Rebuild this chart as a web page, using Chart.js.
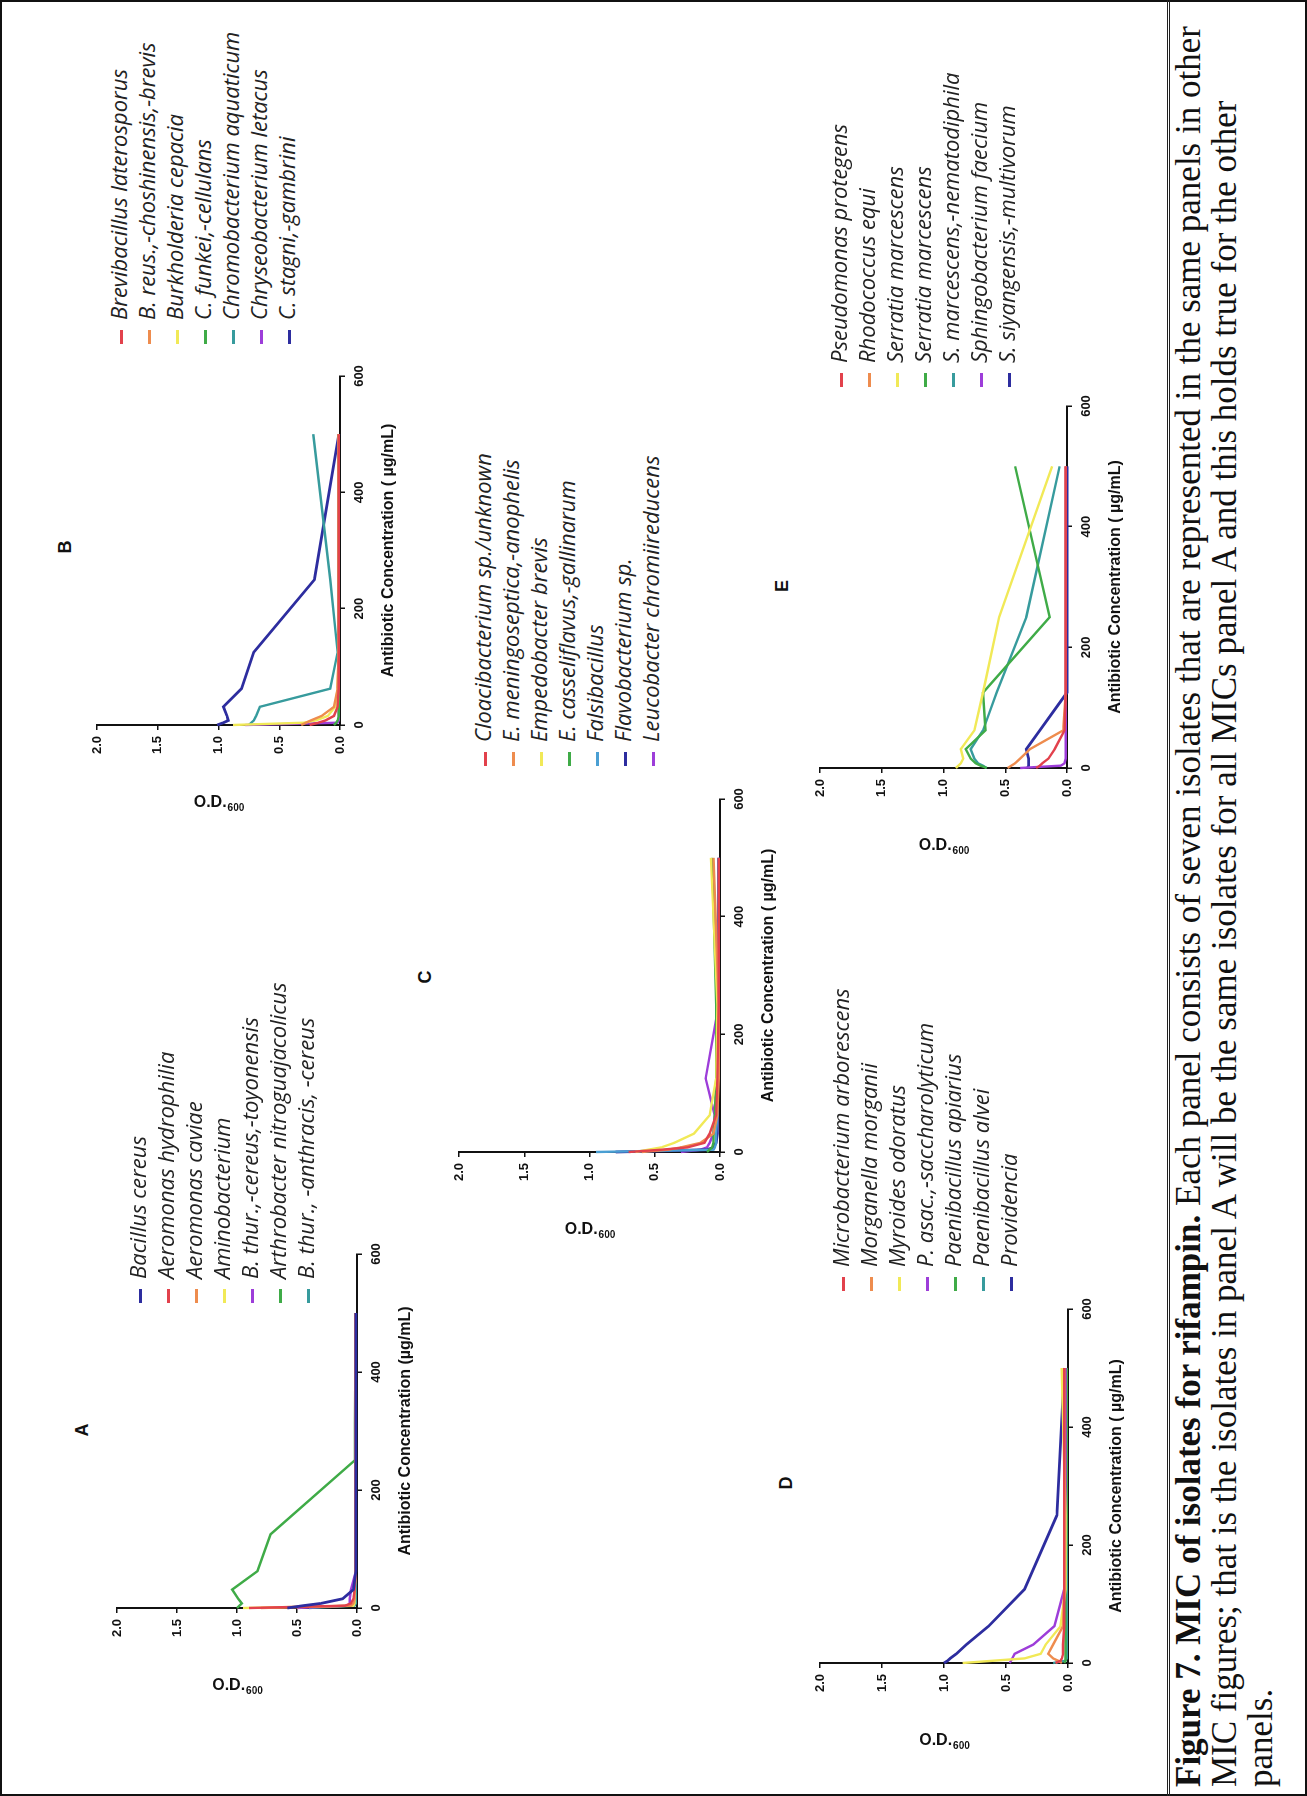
<!DOCTYPE html>
<html>
<head>
<meta charset="utf-8">
<script src="https://cdn.jsdelivr.net/npm/chart.js@4.4.1/dist/chart.umd.min.js"></script>
<style>
  html, body { margin: 0; padding: 0; background: #fff; width: 1307px; height: 1796px; overflow: hidden; }
  #page {
    position: absolute; left: 0; top: 0; width: 1796px; height: 1307px;
    transform-origin: 0 0; transform: translateY(1796px) rotate(-90deg);
    background: #fff; overflow: hidden;
  }
  #frame { position: absolute; left: 0; top: 0; width: 1792px; height: 1303px; border: 2px solid #111; pointer-events: none; z-index: 5; }
  #rule { position: absolute; left: 0; width: 1796px; top: 1167px; height: 1px; border-top: 1px solid #222; border-bottom: 1px solid #222; z-index: 5; }
  canvas { position: absolute; }
  .letter { position: absolute; font: bold 18px "Liberation Sans", Arial, sans-serif; color: #111; transform: translate(-50%, -50%); }
  .legend { position: absolute; font: italic 22px "Open Sans", "DejaVu Sans", sans-serif; color: #222; white-space: nowrap; }
  .legend .row { height: 28px; line-height: 28px; }
  .legend .mk { display: inline-block; width: 14px; height: 3px; vertical-align: middle; margin-right: 10px; }
  .caption { position: absolute; left: 9px; font: 35px "Liberation Serif", "Times New Roman", serif; color: #111; white-space: nowrap; line-height: 36px; }
</style>
</head>
<body>
<div id="page">
  <div id="frame"></div>
  <div id="rule"></div>
</div>
<script>
// Doubling-dilution concentrations (µg/mL) shared by every isolate
const concentrations = [0, 3.9, 7.8, 15.6, 31.25, 62.5, 125, 250, 500];
const xTickValues = [0, 200, 400, 600];
const odTickValues = [0, 0.5, 1.0, 1.5, 2.0];

const RED = '#e2414c', ORANGE = '#ee8c4e', YELLOW = '#f1e957', GREEN = '#3fab47',
      TEAL = '#379b9d', PURPLE = '#9d3dd9', BLUE = '#2d2d9f', SKY = '#4a9fd3';

// Panel A
const isolatesA = ['Bacillus cereus', 'Aeromonas hydrophilia', 'Aeromonas caviae', 'Aminobacterium',
  'B. thur.,-cereus,-toyonensis', 'Arthrobacter nitroguajacolicus', 'B. thur., -anthracis, -cereus'];
const colorsA = [BLUE, RED, ORANGE, YELLOW, PURPLE, GREEN, TEAL];
const odA = [
  [0.58, 0.45, 0.30, 0.12, 0.03, 0.01, 0.01, 0.01, 0.01],
  [0.90, 0.10, 0.05, 0.03, 0.02, 0.01, 0.01, 0.01, 0.01],
  [0.80, 0.05, 0.03, 0.02, 0.02, 0.01, 0.01, 0.01, 0.01],
  [0.95, 0.03, 0.02, 0.02, 0.02, 0.01, 0.01, 0.01, 0.01],
  [0.50, 0.08, 0.06, 0.06, 0.05, 0.01, 0.01, 0.01, 0.01],
  [1.00, 0.98, 0.96, 0.99, 1.04, 0.83, 0.72, 0.02, 0.01],
  [0.40, 0.02, 0.01, 0.01, 0.01, 0.01, 0.01, 0.01, 0.01]
];

// Panel B
const isolatesB = ['Brevibacillus laterosporus', 'B. reus.,-choshinensis,-brevis', 'Burkholderia cepacia',
  'C. funkei,-cellulans', 'Chromobacterium aquaticum', 'Chryseobacterium letacus', 'C. stagni,-gambrini'];
const colorsB = [RED, ORANGE, YELLOW, GREEN, TEAL, PURPLE, BLUE];
const odB = [
  [0.25, 0.18, 0.12, 0.05, 0.02, 0.01, 0.01, 0.01, 0.01],
  [0.32, 0.28, 0.24, 0.15, 0.05, 0.02, 0.01, 0.01, 0.01],
  [0.88, 0.30, 0.20, 0.10, 0.04, 0.02, 0.01, 0.01, 0.01],
  [0.05, 0.03, 0.02, 0.01, 0.01, 0.01, 0.01, 0.01, 0.01],
  [0.75, 0.73, 0.71, 0.69, 0.66, 0.08, 0.02, 0.08, 0.22],
  [0.78, 0.02, 0.01, 0.01, 0.01, 0.01, 0.01, 0.01, 0.01],
  [1.01, 0.96, 0.92, 0.93, 0.96, 0.81, 0.71, 0.21, 0.01]
];

// Panel C
const isolatesC = ['Cloacibacterium sp./unknown', 'E. meningoseptica,-anophelis', 'Empedobacter brevis',
  'E. casseliflavus,-gallinarum', 'Falsibacillus', 'Flavobacterium sp.', 'Leucobacter chromiireducens'];
const colorsC = [RED, ORANGE, YELLOW, GREEN, SKY, BLUE, PURPLE];
const odC = [
  [0.70, 0.45, 0.25, 0.12, 0.08, 0.03, 0.02, 0.01, 0.01],
  [0.60, 0.40, 0.30, 0.15, 0.05, 0.02, 0.01, 0.01, 0.05],
  [0.65, 0.55, 0.45, 0.35, 0.20, 0.08, 0.03, 0.02, 0.07],
  [0.10, 0.08, 0.06, 0.05, 0.05, 0.04, 0.03, 0.03, 0.06],
  [0.95, 0.05, 0.04, 0.03, 0.03, 0.02, 0.02, 0.01, 0.01],
  [0.80, 0.10, 0.05, 0.03, 0.02, 0.02, 0.02, 0.01, 0.01],
  [0.30, 0.15, 0.10, 0.08, 0.05, 0.04, 0.11, 0.01, 0.01]
];

// Panel D
const isolatesD = ['Microbacterium arborescens', 'Morganella morganii', 'Myroides odoratus',
  'P. asac.,-saccharolyticum', 'Paenibacillus apiarius', 'Paenibacillus alvei', 'Providencia'];
const colorsD = [RED, ORANGE, YELLOW, PURPLE, GREEN, TEAL, BLUE];
const odD = [
  [0.10, 0.06, 0.05, 0.04, 0.04, 0.03, 0.03, 0.03, 0.03],
  [0.05, 0.08, 0.12, 0.16, 0.12, 0.04, 0.03, 0.03, 0.03],
  [0.85, 0.60, 0.35, 0.22, 0.18, 0.06, 0.02, 0.02, 0.05],
  [0.47, 0.46, 0.45, 0.43, 0.28, 0.11, 0.03, 0.02, 0.02],
  [0.03, 0.02, 0.02, 0.02, 0.02, 0.02, 0.02, 0.01, 0.01],
  [0.12, 0.02, 0.01, 0.01, 0.01, 0.01, 0.01, 0.01, 0.01],
  [1.00, 0.97, 0.95, 0.90, 0.82, 0.64, 0.35, 0.09, 0.03]
];

// Panel E
const isolatesE = ['Pseudomonas protegens', 'Rhodococcus equi', 'Serratia marcescens', 'Serratia marcescens',
  'S. marcescens,-nematodiphila', 'Sphingobacterium faecium', 'S. siyangensis,-multivorum'];
const colorsE = [RED, ORANGE, YELLOW, GREEN, TEAL, PURPLE, BLUE];
const odE = [
  [0.25, 0.22, 0.20, 0.15, 0.10, 0.02, 0.01, 0.01, 0.01],
  [0.48, 0.45, 0.42, 0.38, 0.30, 0.03, 0.01, 0.01, 0.01],
  [0.90, 0.88, 0.86, 0.84, 0.86, 0.75, 0.68, 0.55, 0.12],
  [0.65, 0.70, 0.74, 0.78, 0.82, 0.66, 0.68, 0.14, 0.42],
  [0.65, 0.68, 0.72, 0.75, 0.78, 0.68, 0.57, 0.33, 0.06],
  [0.38, 0.05, 0.02, 0.01, 0.01, 0.01, 0.01, 0.01, 0.01],
  [0.32, 0.31, 0.31, 0.31, 0.33, 0.22, 0.00, 0.00, 0.00]
];

const TITLE_A = 'Antibiotic Concentration (µg/mL)';
const TITLE_OTHER = 'Antibiotic Concentration ( µg/mL)';

// Page placement of each panel (landscape page coordinates)
const layout = {
  A: { axisLeft: 188,  top: 117, bottom: 357,  right: 542,  letter: [366, 82],   legend: [493, 123] },
  B: { axisLeft: 1071, top: 97,  bottom: 340,  right: 1420, letter: [1249, 65],  legend: [1452, 104] },
  C: { axisLeft: 644,  top: 459, bottom: 720,  right: 997,  letter: [819, 425],  legend: [1030, 468] },
  D: { axisLeft: 133,  top: 820, bottom: 1068, right: 487,  letter: [313, 786],  legend: [505, 826] },
  E: { axisLeft: 1028, top: 820, bottom: 1067, right: 1390, letter: [1210, 782], legend: [1409, 824] }
};

const panels = [
  { id: 'A', isolates: isolatesA, colors: colorsA, od: odA, title: TITLE_A },
  { id: 'B', isolates: isolatesB, colors: colorsB, od: odB, title: TITLE_OTHER },
  { id: 'C', isolates: isolatesC, colors: colorsC, od: odC, title: TITLE_OTHER },
  { id: 'D', isolates: isolatesD, colors: colorsD, od: odD, title: TITLE_OTHER },
  { id: 'E', isolates: isolatesE, colors: colorsE, od: odE, title: TITLE_OTHER }
];

const Y_BOX = 100, X_BOX = 62, PAD_TOP = 15, PAD_RIGHT = 25;
const SANS = '"Liberation Sans", Arial, sans-serif';

// Y-axis title "O.D.600", set beside the O.D. axis and read top to bottom
const odTitlePlugin = {
  id: 'odTitle',
  afterDraw(chart) {
    const { ctx, chartArea } = chart;
    const ys = chart.scales.y;
    const cx = chartArea.left - 78;
    const cy = (ys.top + ys.bottom) / 2;
    ctx.save();
    ctx.translate(cx, cy);
    ctx.rotate(Math.PI / 2);
    ctx.fillStyle = '#111';
    ctx.textBaseline = 'middle';
    ctx.textAlign = 'left';
    ctx.font = 'bold 16px ' + SANS;
    const w1 = ctx.measureText('O.D.').width;
    ctx.font = 'bold 10px ' + SANS;
    const w2 = ctx.measureText('600').width;
    const x0 = -(w1 + w2) / 2;
    ctx.font = 'bold 16px ' + SANS;
    ctx.fillText('O.D.', x0, 0);
    ctx.font = 'bold 10px ' + SANS;
    ctx.fillText('600', x0 + w1 + 1, 5);
    ctx.restore();
  }
};

const page = document.getElementById('page');

panels.forEach(p => {
  const L = layout[p.id];
  const plotW = L.right - L.axisLeft;
  const plotH = L.bottom - L.top;
  const canvas = document.createElement('canvas');
  const cw = Y_BOX + plotW + PAD_RIGHT;
  const ch = PAD_TOP + plotH + X_BOX;
  canvas.width = cw; canvas.height = ch;
  canvas.style.width = cw + 'px'; canvas.style.height = ch + 'px';
  canvas.style.left = (L.axisLeft - Y_BOX) + 'px';
  canvas.style.top = (L.top - PAD_TOP) + 'px';
  page.appendChild(canvas);

  const datasets = p.od.map((vals, i) => ({
    label: p.isolates[i],
    data: concentrations.map((c, j) => ({ x: c, y: vals[j] })),
    borderColor: p.colors[i],
    backgroundColor: p.colors[i],
    borderWidth: p.colors[i] === BLUE ? 2.8 : 2.4,
    pointRadius: 0,
    tension: 0,
    fill: false,
    clip: 6
  }));

  new Chart(canvas, {
    type: 'line',
    data: { datasets },
    options: {
      responsive: false,
      animation: false,
      devicePixelRatio: 1,
      layout: { padding: { top: PAD_TOP, right: PAD_RIGHT, left: 0, bottom: 0 } },
      plugins: { legend: { display: false }, tooltip: { enabled: false }, title: { display: false } },
      scales: {
        x: {
          type: 'linear', min: 0, max: 600,
          afterBuildTicks: s => { s.ticks = xTickValues.map(v => ({ value: v })); },
          afterFit: s => { s.height = X_BOX; },
          ticks: { color: '#111', font: { family: SANS, weight: 'bold', size: 13 }, padding: 7, maxRotation: 0 },
          grid: { drawOnChartArea: false, drawTicks: true, tickLength: 5, color: '#111', lineWidth: 1.5 },
          border: { display: true, color: '#111', width: 2 },
          title: { display: true, text: p.title, color: '#111', font: { family: SANS, weight: 'bold', size: 16 }, padding: { top: 2, bottom: 4 } }
        },
        y: {
          type: 'linear', min: 0, max: 2,
          afterBuildTicks: s => { s.ticks = odTickValues.map(v => ({ value: v })); },
          afterFit: s => { s.width = Y_BOX; },
          ticks: { color: '#111', font: { family: SANS, weight: 'bold', size: 13 }, padding: 6, callback: v => Number(v).toFixed(1) },
          grid: { drawOnChartArea: false, drawTicks: true, tickLength: 5, color: '#111', lineWidth: 1.5 },
          border: { display: true, color: '#111', width: 2 }
        }
      }
    },
    plugins: [odTitlePlugin]
  });

  const letter = document.createElement('div');
  letter.className = 'letter';
  letter.textContent = p.id;
  letter.style.left = L.letter[0] + 'px';
  letter.style.top = L.letter[1] + 'px';
  page.appendChild(letter);

  const legend = document.createElement('div');
  legend.className = 'legend';
  legend.style.left = L.legend[0] + 'px';
  legend.style.top = L.legend[1] + 'px';
  p.isolates.forEach((name, i) => {
    const row = document.createElement('div');
    row.className = 'row';
    const mk = document.createElement('span');
    mk.className = 'mk';
    mk.style.background = p.colors[i];
    const tx = document.createElement('span');
    tx.textContent = name;
    row.appendChild(mk); row.appendChild(tx);
    legend.appendChild(row);
  });
  page.appendChild(legend);
});

// Figure caption under the panels
const captionLines = [
  ['Figure 7. MIC of isolates for rifampin.', ' Each panel consists of seven isolates that are represented in the same panels in other'],
  ['', 'MIC figures; that is the isolates in panel A will be the same isolates for all MICs panel A and this holds true for the other'],
  ['', 'panels.']
];
captionLines.forEach((ln, i) => {
  const d = document.createElement('div');
  d.className = 'caption';
  d.style.top = (1171 + i * 36) + 'px';
  if (ln[0]) { const b = document.createElement('b'); b.textContent = ln[0]; d.appendChild(b); }
  d.appendChild(document.createTextNode(ln[1]));
  page.appendChild(d);
});
</script>
</body>
</html>
